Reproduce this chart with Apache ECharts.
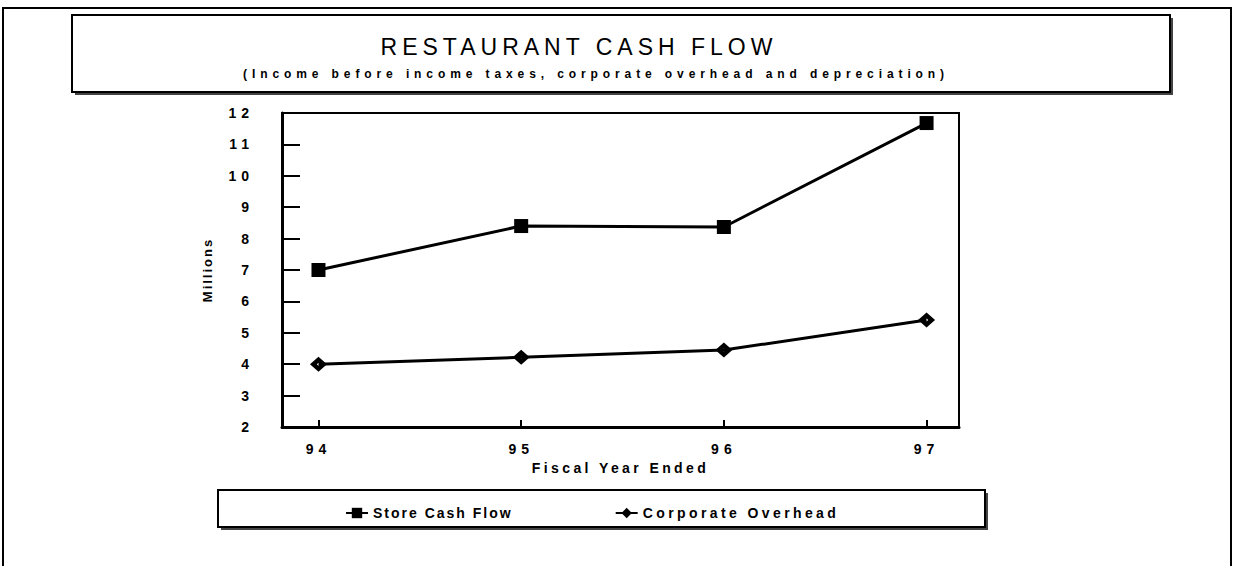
<!DOCTYPE html>
<html>
<head>
<meta charset="utf-8">
<script src="https://cdn.jsdelivr.net/npm/echarts@6/dist/echarts.min.js"></script>
<style>
html, body { margin: 0; padding: 0; background: #fff; }
#chart { width: 1238px; height: 566px; }
</style>
</head>
<body>
<div id="chart"></div>
<script>
// data (millions)
var years = [94, 95, 96, 97];
var storeCashFlow = [7.0, 8.4, 8.37, 11.68];
var corporateOverhead = [4.0, 4.22, 4.45, 5.41];
var seriesNames = ['Store Cash Flow', 'Corporate Overhead'];
var titleText = 'RESTAURANT CASH FLOW';
var subtitleText = '(Income before income taxes, corporate overhead and depreciation)';
var yName = 'Millions';
var xName = 'Fiscal Year Ended';

var font = "'Liberation Sans', Arial, sans-serif";
// black diamond with a tiny white hole in the middle
var diamondIcon = 'path://M0,-10 L10,0 L0,10 L-10,0 Z M0,-2 L-2,0 L0,2 L2,0 Z';

function pairs(vals) {
    return years.map(function (y, i) { return [y, vals[i]]; });
}

// letter spacing per text (applied to the svg text after render)
var spacing = {};
spacing[titleText] = 5;
spacing[subtitleText] = 4.9;
spacing[yName] = 2;
spacing[xName] = 3.4;
spacing[seriesNames[0]] = 2;
spacing[seriesNames[1]] = 3.4;

function boxWithShadow(x, y, w, h) {
    return {
        type: 'group',
        children: [
            { type: 'rect', shape: { x: x + 3, y: y + 3, width: w, height: h }, style: { fill: '#444' }, z: 0 },
            { type: 'rect', shape: { x: x, y: y, width: w, height: h }, style: { fill: '#fff', stroke: '#000', lineWidth: 2 }, z: 1 }
        ]
    };
}

var dom = document.getElementById('chart');
var myChart = echarts.init(dom, null, { renderer: 'svg' });

var option = {
    animation: false,
    backgroundColor: '#fff',
    textStyle: { fontFamily: font, color: '#000' },
    graphic: [
        // outer frame
        { type: 'rect', shape: { x: 3, y: 8, width: 1228, height: 620 }, style: { fill: 'none', stroke: '#000', lineWidth: 2 }, z: 0 },
        boxWithShadow(72, 15, 1098, 77),
        {
            type: 'text', x: 579, y: 47, z: 5,
            style: { text: titleText, fill: '#000', font: '23px ' + font, textAlign: 'center', textVerticalAlign: 'middle' }
        },
        {
            type: 'text', x: 596, y: 74, z: 5,
            style: { text: subtitleText, fill: '#000', font: 'bold 12px ' + font, textAlign: 'center', textVerticalAlign: 'middle' }
        },
        boxWithShadow(218, 490, 767, 37)
    ],
    grid: {
        left: 282, top: 113, right: 279, bottom: 139,
        show: true, borderColor: '#000', borderWidth: 2, backgroundColor: 'transparent'
    },
    legend: {
        data: seriesNames,
        left: 340, top: 501,
        itemGap: 132,
        itemWidth: 22, itemHeight: 13,
        textStyle: { fontFamily: font, fontWeight: 'bold', fontSize: 14, color: '#000' },
        z: 10
    },
    xAxis: {
        type: 'value',
        min: 93.82, max: 97.16,
        name: xName,
        nameLocation: 'middle',
        nameGap: 33,
        nameTextStyle: { fontFamily: font, fontWeight: 'bold', fontSize: 14, color: '#000' },
        axisLine: { show: true, lineStyle: { color: '#000', width: 3 } },
        axisTick: { show: true, inside: true, length: 7, lineStyle: { color: '#000', width: 2 }, customValues: years },
        axisLabel: { customValues: years, margin: 15, fontFamily: font, fontWeight: 'bold', fontSize: 14, color: '#000' },
        splitLine: { show: false }
    },
    yAxis: {
        type: 'value',
        min: 2, max: 12, interval: 1,
        name: yName,
        nameLocation: 'middle',
        nameGap: 68,
        nameTextStyle: { fontFamily: font, fontWeight: 'bold', fontSize: 13, color: '#000' },
        axisLine: { show: true, lineStyle: { color: '#000', width: 3 } },
        axisTick: { show: true, inside: true, length: 18, lineStyle: { color: '#000', width: 2 } },
        axisLabel: { margin: 28, fontFamily: font, fontWeight: 'bold', fontSize: 14, color: '#000' },
        splitLine: { show: false }
    },
    series: [
        {
            name: seriesNames[0],
            type: 'line',
            data: pairs(storeCashFlow),
            symbol: 'rect',
            symbolSize: 14,
            lineStyle: { color: '#000', width: 3 },
            itemStyle: { color: '#000' }
        },
        {
            name: seriesNames[1],
            type: 'line',
            data: pairs(corporateOverhead),
            symbol: diamondIcon,
            symbolSize: [17, 15],
            lineStyle: { color: '#000', width: 3 },
            itemStyle: { color: '#000' }
        }
    ]
};

myChart.setOption(option);

function applySpacing() {
    dom.querySelectorAll('text').forEach(function (t) {
        var s = spacing[t.textContent];
        if (s == null && /^\d+$/.test(t.textContent)) s = 5;
        if (s != null) t.style.letterSpacing = s + 'px';
    });
}
applySpacing();
myChart.on('finished', applySpacing);
</script>
</body>
</html>
